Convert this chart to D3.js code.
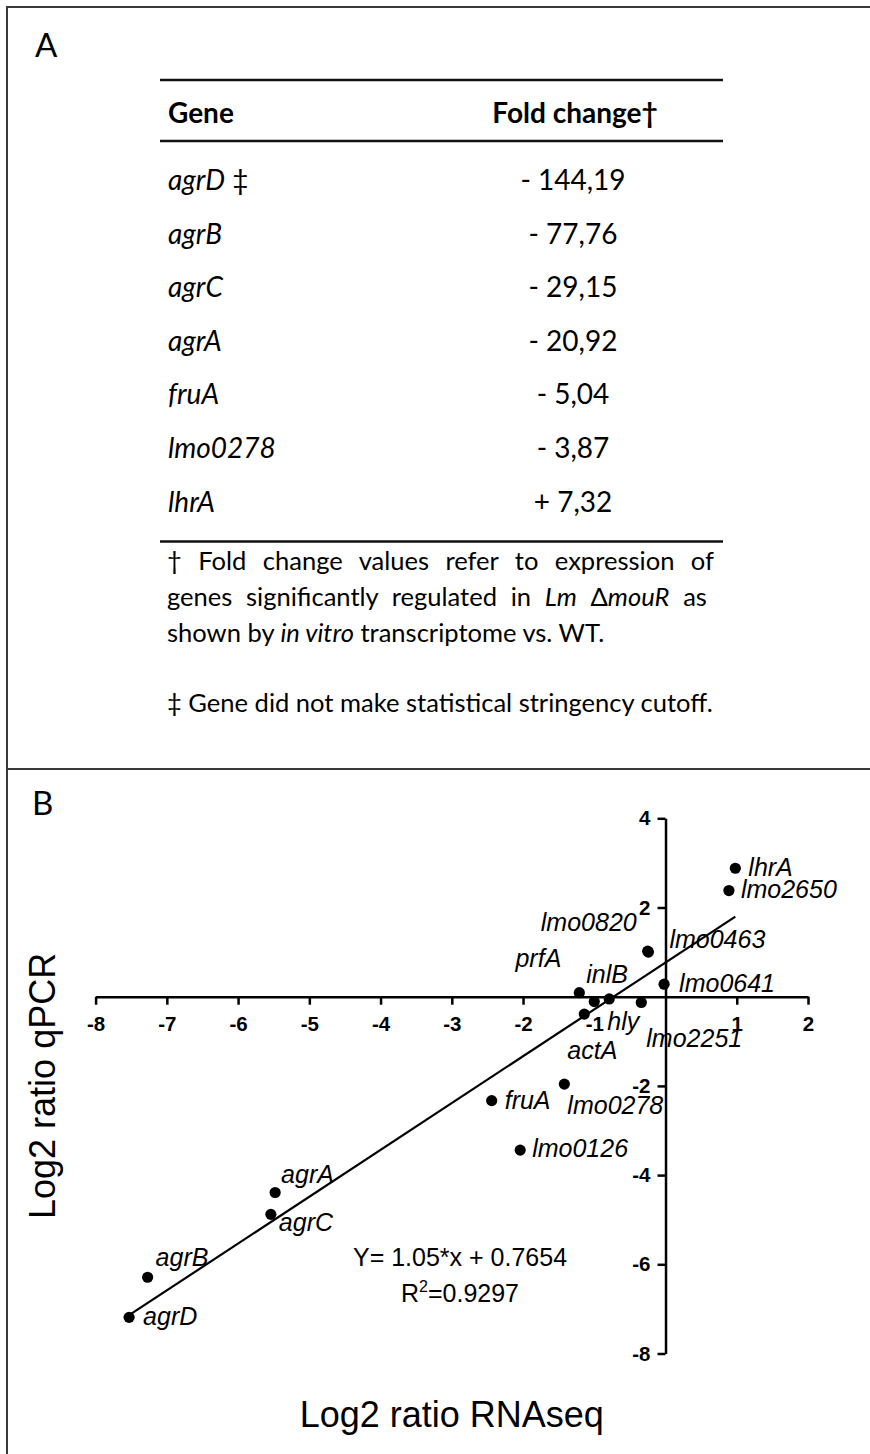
<!DOCTYPE html>
<html>
<head>
<meta charset="utf-8">
<script src="https://cdn.jsdelivr.net/npm/d3@7"></script>
<style>
    body { margin: 0; background: #ffffff; }
    .panel_letter { font-family: Lato, "Open Sans", sans-serif; font-size: 33px; fill: #000; }
    .table_text   { font-family: Lato, "Open Sans", sans-serif; font-size: 28px; fill: #000; }
    .note_text    { font-family: Lato, "Open Sans", sans-serif; font-size: 26px; fill: #000; }
    .plot_text    { font-family: "Liberation Sans", Arial, sans-serif; fill: #000; }
</style>
</head>
<body>
<svg id="figure" width="870" height="1454"></svg>
<script>
// panel A : table values
const tableGenes      = ["agrD", "agrB", "agrC", "agrA", "fruA", "lmo0278", "lhrA"];
const tableGeneNotes  = ["‡", "", "", "", "", "", ""];
const tableFoldChange = [-144.19, -77.76, -29.15, -20.92, -5.04, -3.87, 7.32];

// panel B : log2 ratios
const scatterGenes = ["agrD", "agrB", "agrA", "agrC", "fruA", "lmo0126", "lmo0278", "actA",
                      "prfA", "inlB", "hly", "lmo2251", "lmo0820", "lmo0463", "lmo0641", "lmo2650", "lhrA"];
const rnaseqLog2   = [-7.53, -7.27, -5.48, -5.54, -2.44, -2.04, -1.42, -1.14,
                      -1.21, -1.00, -0.79, -0.34, -0.25, -0.24, -0.02, 0.89, 0.98];
const qpcrLog2     = [-7.19, -6.29, -4.39, -4.88, -2.33, -3.44, -1.96, -0.39,
                       0.09, -0.11, -0.05, -0.13, 1.02, 1.00, 0.28, 2.38, 2.88];

const fitSlope     = 1.05;
const fitIntercept = 0.7654;
const fitR2        = 0.9297;

const xTickValues  = [-8, -7, -6, -5, -4, -3, -2, -1, 1, 2];
const yTickValues  = [4, 2, -2, -4, -6, -8];

// label placement next to each point: [dx, dy, anchor] in pixels
const labelLayout = {
    agrD:    [14,   8, "start"],
    agrB:    [ 8, -11, "start"],
    agrA:    [ 6,  -9, "start"],
    agrC:    [ 8,  17, "start"],
    fruA:    [13,   8, "start"],
    lmo0126: [12,   7, "start"],
    lmo0278: [ 3,  30, "start"],
    actA:    [-17, 45, "start"],
    prfA:    [-18, -26, "end"],
    inlB:    [-8, -19, "start"],
    hly:     [-2,  31, "start"],
    lmo2251: [ 5,  45, "start"],
    lmo0820: [-11, -20, "end"],
    lmo0463: [21,  -4, "start"],
    lmo0641: [15,   8, "start"],
    lmo2650: [12,   7, "start"],
    lhrA:    [13,   8, "start"]
};

const svg = d3.select("#figure");

// the following code is used to draw the frame around both panels
const frameColor = "#3a3a3a";
svg.append("line").attr("x1", 7).attr("y1", 7).attr("x2", 7).attr("y2", 1454)
    .attr("stroke", frameColor).attr("stroke-width", 2);
svg.append("line").attr("x1", 6).attr("y1", 7).attr("x2", 870).attr("y2", 7)
    .attr("stroke", frameColor).attr("stroke-width", 2);
svg.append("line").attr("x1", 6).attr("y1", 769).attr("x2", 870).attr("y2", 769)
    .attr("stroke", frameColor).attr("stroke-width", 2);

svg.append("text").attr("class", "panel_letter").attr("x", 35).attr("y", 57).text("A");
svg.append("text").attr("class", "panel_letter").attr("x", 32).attr("y", 815).text("B");

// ---------------- panel A ----------------
const tableLeft  = 160;
const tableRight = 723;
const geneX      = 168;
const valueX     = 573;

[80, 141, 541.5].forEach(y =>
{
    svg.append("line")
        .attr("x1", tableLeft).attr("x2", tableRight)
        .attr("y1", y).attr("y2", y)
        .attr("stroke", "#111").attr("stroke-width", 2.7);
});

svg.append("text").attr("class", "table_text")
    .attr("x", geneX).attr("y", 123).attr("font-weight", "bold").text("Gene");
svg.append("text").attr("class", "table_text")
    .attr("x", valueX + 2).attr("y", 123).attr("font-weight", "bold")
    .attr("text-anchor", "middle").text("Fold change†");

const rowScale = d3.scalePoint()
    .domain(tableGenes)
    .range([190, 511.5]);

const formatFold = v => (v < 0 ? "- " : "+ ") + Math.abs(v).toFixed(2).replace(".", ",");

const rows = svg.selectAll(".table_row").data(tableGenes)
    .enter().append("g")
    .attr("class", "table_row");

const geneText = rows.append("text")
    .attr("class", "table_text")
    .attr("x", geneX)
    .attr("y", d => rowScale(d));
geneText.append("tspan").attr("font-style", "italic").text(d => d);
geneText.append("tspan").text((d, i) => tableGeneNotes[i] ? " " + tableGeneNotes[i] : "");

rows.append("text")
    .attr("class", "table_text")
    .attr("x", valueX)
    .attr("y", d => rowScale(d))
    .attr("text-anchor", "middle")
    .text((d, i) => formatFold(tableFoldChange[i]));

// footnotes, first two lines are justified between the text edges
const noteLeft  = 167;
const noteRight = 714;

const noteLines = [
    { y: 570,   justify: true,  parts: [["† Fold change values refer to expression of", false]] },
    { y: 605.5, justify: true,  parts: [["genes significantly regulated in ", false], ["Lm", true], ["  Δ", false], ["mouR", true], [" as", false]] },
    { y: 641.5, justify: false, parts: [["shown by ", false], ["in vitro", true], ["  transcriptome vs. WT.", false]] },
    { y: 712,   justify: false, parts: [["‡ Gene did not make statistical stringency cutoff.", false]] }
];

const noteTexts = noteLines.map(line =>
{
    const t = svg.append("text").attr("class", "note_text")
        .attr("x", noteLeft).attr("y", line.y);
    line.parts.forEach(p =>
    {
        t.append("tspan").attr("font-style", p[1] ? "italic" : "normal").text(p[0]);
    });
    return t;
});

// size the footnote font so the last line is as wide as in the figure
const lastWidth = noteTexts[3].node().getComputedTextLength();
const noteSize  = 26 * 546 / lastWidth;
noteTexts.forEach(t => t.style("font-size", noteSize + "px"));

noteLines.forEach((line, i) =>
{
    if (!line.justify) return;
    const t       = noteTexts[i];
    const natural = t.node().getComputedTextLength();
    const spaces  = line.parts.map(p => p[0]).join("").split(" ").length - 1;
    t.attr("word-spacing", (noteRight - noteLeft - natural) / spaces);
});

// ---------------- panel B ----------------
const x = d3.scaleLinear().domain([-8, 2]).range([95.6, 808]);
const y = d3.scaleLinear().domain([-8, 4]).range([1353.5, 818.3]);

const plot = svg.append("g").attr("class", "plot_text");

const xAxis = d3.axisBottom(x)
    .tickValues(xTickValues)
    .tickFormat(d => String(d))
    .tickSize(8)
    .tickSizeOuter(0)
    .tickPadding(12);

const yAxis = d3.axisLeft(y)
    .tickValues(yTickValues)
    .tickFormat(d => String(d))
    .tickSize(8)
    .tickSizeOuter(0)
    .tickPadding(7);

const gx = plot.append("g")
    .attr("transform", `translate(0,${y(0)})`)
    .call(xAxis);

const gy = plot.append("g")
    .attr("transform", `translate(${x(0)},0)`)
    .call(yAxis);

[gx, gy].forEach(g =>
{
    g.attr("font-family", "'Liberation Sans', Arial, sans-serif")
        .attr("font-size", 20.5)
        .attr("font-weight", "bold");
    g.selectAll("path, line").attr("stroke", "#000").attr("stroke-width", 2.5);
    g.selectAll("text").attr("fill", "#000");
});

// regression line over the range of the data
const xExtent = d3.extent(rnaseqLog2);
const fitLine = d3.line()
    .x(d => x(d))
    .y(d => y(fitSlope * d + fitIntercept));

plot.append("path")
    .datum(xExtent)
    .attr("d", fitLine)
    .attr("fill", "none")
    .attr("stroke", "#000")
    .attr("stroke-width", 2.2);

// points and gene labels
plot.selectAll(".gene_dot").data(scatterGenes)
    .enter().append("circle")
    .attr("class", "gene_dot")
    .attr("cx", (d, i) => x(rnaseqLog2[i]))
    .attr("cy", (d, i) => y(qpcrLog2[i]))
    .attr("r", 5.6)
    .attr("fill", "#000");

plot.selectAll(".gene_label").data(scatterGenes)
    .enter().append("text")
    .attr("class", "gene_label")
    .attr("x", (d, i) => x(rnaseqLog2[i]) + labelLayout[d][0])
    .attr("y", (d, i) => y(qpcrLog2[i]) + labelLayout[d][1])
    .attr("text-anchor", d => labelLayout[d][2])
    .attr("font-size", 25)
    .attr("font-style", "italic")
    .text(d => d);

// equation of the fit
plot.append("text")
    .attr("x", 460).attr("y", 1266)
    .attr("text-anchor", "middle")
    .attr("font-size", 25)
    .text(`Y= ${fitSlope}*x + ${fitIntercept}`);

const r2Text = plot.append("text")
    .attr("x", 460).attr("y", 1302)
    .attr("text-anchor", "middle")
    .attr("font-size", 25);
r2Text.append("tspan").text("R");
r2Text.append("tspan").attr("font-size", 16).attr("dy", -10).text("2");
r2Text.append("tspan").attr("dy", 10).text("=" + fitR2);

// axis titles
plot.append("text")
    .attr("x", (x(-8) + x(2)) / 2).attr("y", 1427)
    .attr("text-anchor", "middle")
    .attr("font-size", 36)
    .text("Log2 ratio RNAseq");

plot.append("text")
    .attr("transform", `translate(55,${(y(-8) + y(4)) / 2}) rotate(-90)`)
    .attr("text-anchor", "middle")
    .attr("font-size", 36)
    .text("Log2 ratio qPCR");
</script>
</body>
</html>
